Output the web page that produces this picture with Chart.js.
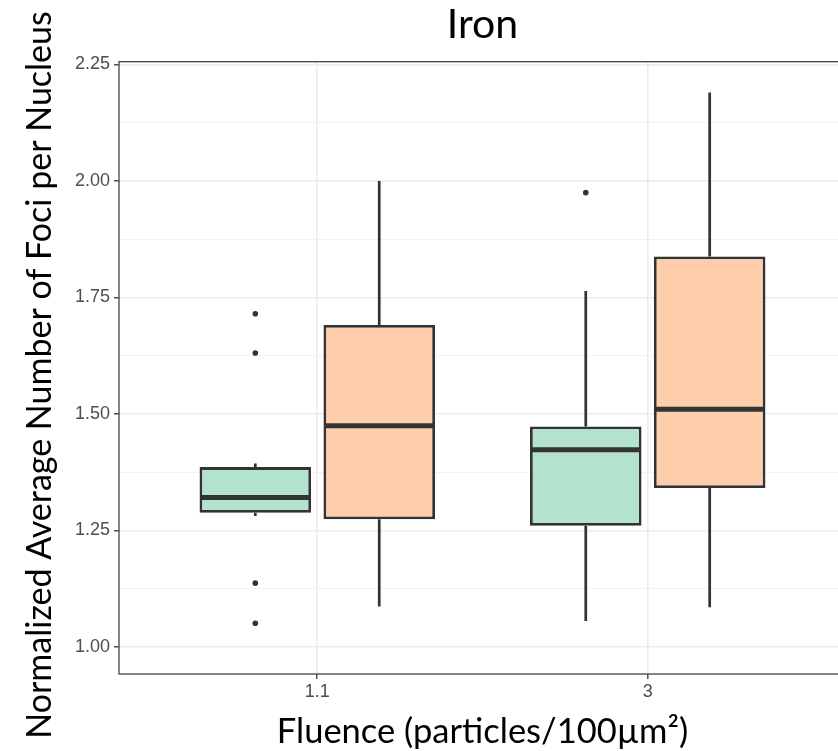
<!DOCTYPE html>
<html>
<head>
<meta charset="utf-8">
<script src="https://cdn.jsdelivr.net/npm/chart.js@4.4.0/dist/chart.umd.min.js"></script>
<style>
  html, body { margin: 0; padding: 0; background: #ffffff; overflow: hidden; }
  #wrap { width: 838px; height: 751px; overflow: hidden; position: relative; }
  canvas { display: block; }
</style>
</head>
<body>
<div id="wrap"><canvas id="c" width="870" height="751"></canvas></div>
<script>
// ---------------- data ----------------
const chartTitle = 'Iron';
const xTitle = 'Fluence (particles/100\u00B5m\u00B2)';
const yTitle = 'Normalized Average Number of Foci per Nucleus';
const categories = ['1.1', '3'];
const yTickValues = [1.00, 1.25, 1.50, 1.75, 2.00, 2.25];
const yMinorValues = [1.125, 1.375, 1.625, 1.875, 2.125];

// series A (green)
const aLowerWhisker = [1.281, 1.056];
const aQ1           = [1.288, 1.260];
const aMedian       = [1.321, 1.423];
const aQ3           = [1.386, 1.473];
const aUpperWhisker = [1.394, 1.764];
const aOutliers     = [[1.715, 1.631, 1.137, 1.051], [1.975]];

// series B (orange)
const bLowerWhisker = [1.087, 1.085];
const bQ1           = [1.274, 1.341];
const bMedian       = [1.475, 1.510];
const bQ3           = [1.691, 1.838];
const bUpperWhisker = [2.000, 2.190];
const bOutliers     = [[], []];

// ---------------- styling / layout ----------------
const DODGE = 0.1875;
const INK = '#333333';
const series = [
  { fill: '#B3E2CD', offset: -DODGE, lo: aLowerWhisker, q1: aQ1, med: aMedian, q3: aQ3, hi: aUpperWhisker, out: aOutliers },
  { fill: '#FDCDAC', offset:  DODGE, lo: bLowerWhisker, q1: bQ1, med: bMedian, q3: bQ3, hi: bUpperWhisker, out: bOutliers }
];

const boxDatasets = series.map(s => ({
  type: 'bar',
  data: categories.map((c, i) => ({ x: i + s.offset, y: [s.q1[i], s.q3[i]] })),
  backgroundColor: s.fill,
  borderColor: INK,
  borderWidth: 2.8,
  borderSkipped: false,
  grouped: false,
  barPercentage: 0.9,
  categoryPercentage: 1.0,
  order: 2
}));

const outlierPoints = [];
series.forEach(s => categories.forEach((c, i) => s.out[i].forEach(v => outlierPoints.push({ x: i + s.offset, y: v }))));
const outlierDataset = {
  type: 'scatter',
  data: outlierPoints,
  pointRadius: 2.8,
  pointHoverRadius: 2.8,
  pointBackgroundColor: INK,
  pointBorderWidth: 0,
  order: 1
};

const allYTicks = yTickValues.concat(yMinorValues).sort((p, q) => p - q);
const isMajor = v => yTickValues.some(t => Math.abs(t - v) < 1e-9);

const boxplotPlugin = {
  id: 'boxplotExtras',
  beforeDatasetsDraw(chart) {
    const ctx = chart.ctx, y = chart.scales.y;
    ctx.save();
    ctx.strokeStyle = INK;
    ctx.lineWidth = 2.7;
    ctx.lineCap = 'butt';
    series.forEach((s, di) => {
      const meta = chart.getDatasetMeta(di);
      meta.data.forEach((el, i) => {
        ctx.beginPath();
        ctx.moveTo(el.x, y.getPixelForValue(s.q3[i]));
        ctx.lineTo(el.x, y.getPixelForValue(s.hi[i]));
        ctx.moveTo(el.x, y.getPixelForValue(s.q1[i]));
        ctx.lineTo(el.x, y.getPixelForValue(s.lo[i]));
        ctx.stroke();
      });
    });
    ctx.restore();
  },
  afterDatasetsDraw(chart) {
    const ctx = chart.ctx, y = chart.scales.y, a = chart.chartArea;
    ctx.save();
    ctx.strokeStyle = INK;
    ctx.lineWidth = 5;
    series.forEach((s, di) => {
      const meta = chart.getDatasetMeta(di);
      meta.data.forEach((el, i) => {
        const py = y.getPixelForValue(s.med[i]);
        ctx.beginPath();
        ctx.moveTo(el.x - el.width / 2 + 1, py);
        ctx.lineTo(el.x + el.width / 2 - 1, py);
        ctx.stroke();
      });
    });
    // panel border
    ctx.strokeStyle = '#444444';
    ctx.lineWidth = 1.3;
    ctx.strokeRect(a.left, a.top, a.right - a.left, a.bottom - a.top);
    ctx.restore();
  },
  afterDraw(chart) {
    const ctx = chart.ctx;
    ctx.save();
    ctx.translate(51, 375);
    ctx.rotate(-Math.PI / 2);
    ctx.font = '34px Lato';
    ctx.fillStyle = '#000000';
    ctx.textAlign = 'center';
    ctx.textBaseline = 'alphabetic';
    ctx.fillText(yTitle, 0, 0);
    ctx.restore();
  }
};

new Chart(document.getElementById('c'), {
  type: 'bar',
  data: { datasets: [...boxDatasets, outlierDataset] },
  plugins: [boxplotPlugin],
  options: {
    responsive: false,
    animation: false,
    devicePixelRatio: 1,
    layout: { padding: { left: 0, right: 24, top: 0, bottom: 0 } },
    plugins: {
      legend: { display: false },
      tooltip: { enabled: false },
      title: {
        display: true,
        text: chartTitle,
        fullSize: false,
        color: '#000000',
        font: { family: 'Lato', size: 41, weight: 'normal', lineHeight: 1 },
        padding: { top: 4, bottom: 16.7 }
      }
    },
    scales: {
      x: {
        type: 'linear',
        min: -0.6,
        max: 1.6,
        offset: false,
        afterBuildTicks: sc => { sc.ticks = categories.map((c, i) => ({ value: i })); },
        afterFit: sc => { sc.height = 77; },
        ticks: {
          callback: v => categories[v],
          color: '#4d4d4d',
          font: { family: 'Liberation Sans', size: 18 },
          padding: 2,
          maxRotation: 0
        },
        grid: { color: '#ebebeb', lineWidth: 1.6, tickLength: 5, tickColor: INK, tickWidth: 1.3, offset: false },
        border: { display: false },
        title: {
          display: true,
          text: xTitle,
          color: '#000000',
          font: { family: 'Lato', size: 34.5, lineHeight: 1 },
          padding: { top: 0, bottom: 2 }
        }
      },
      y: {
        type: 'linear',
        min: 0.942,
        max: 2.256,
        afterBuildTicks: sc => { sc.ticks = allYTicks.map(v => ({ value: v })); },
        afterFit: sc => { sc.width = 119; },
        ticks: {
          callback: v => isMajor(v) ? v.toFixed(2) : '',
          color: '#4d4d4d',
          font: { family: 'Liberation Sans', size: 18 },
          padding: 4
        },
        grid: {
          color: c => (c.tick && isMajor(c.tick.value)) ? '#ebebeb' : '#f2f2f2',
          lineWidth: c => (c.tick && isMajor(c.tick.value)) ? 1.6 : 1,
          tickLength: 5,
          tickColor: c => (c.tick && isMajor(c.tick.value)) ? INK : 'rgba(0,0,0,0)',
          tickWidth: 1.3
        },
        border: { display: false }
      }
    }
  }
});
</script>
</body>
</html>
